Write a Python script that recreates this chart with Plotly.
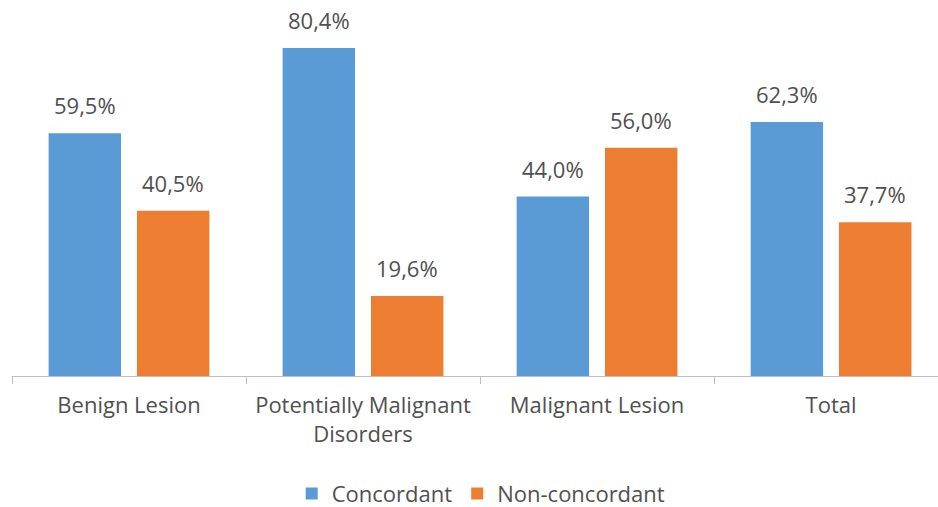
import plotly.graph_objects as go

categories = ["Benign Lesion", "Potentially Malignant<br>Disorders", "Malignant Lesion", "Total"]
concordant = [59.5, 80.4, 44.0, 62.3]
non_concordant = [40.5, 19.6, 56.0, 37.7]
series_names = ["Concordant", "Non-concordant"]

FONT = "Open Sans"
TXT = "#505050"
SIZE = 22

fig = go.Figure()
fig.add_trace(go.Bar(x=categories, y=concordant, name=series_names[0],
                     marker=dict(color="#5b9bd5", line=dict(width=0))))
fig.add_trace(go.Bar(x=categories, y=non_concordant, name=series_names[1],
                     marker=dict(color="#ed7d31", line=dict(width=0))))

def fmt(v):
    return f"{v:.1f}".replace(".", ",") + "%"

for i, cat in enumerate(categories):
    for vals, shift in ((concordant, -44), (non_concordant, 44)):
        fig.add_annotation(x=cat, y=vals[i], text=fmt(vals[i]), showarrow=False,
                           xshift=shift, yshift=28, yanchor="middle",
                           font=dict(family=FONT, size=SIZE, color=TXT))

fig.update_layout(
    width=938, height=507,
    margin=dict(l=12, r=0, t=0, b=131, autoexpand=False),
    paper_bgcolor="white", plot_bgcolor="white",
    barmode="group", bargap=0.245, bargroupgap=0.18,
    font=dict(family=FONT, size=SIZE, color=TXT),
    showlegend=True,
    legend=dict(orientation="h", xref="container", x=0.513, xanchor="center",
                yref="container", y=0.026, yanchor="middle",
                font=dict(family=FONT, size=SIZE, color=TXT), itemwidth=30,
                traceorder="normal"),
)
fig.update_xaxes(range=[-0.5, 3.457], showline=True, linecolor="#bfbfbf", linewidth=1,
                 ticks="outside", tickson="boundaries", ticklen=7, tickcolor="#bfbfbf",
                 ticklabelstandoff=10, showgrid=False, automargin=False,
                 tickfont=dict(family=FONT, size=SIZE, color=TXT))
fig.update_yaxes(range=[0, 92.2], visible=False, showgrid=False, automargin=False)

fig.write_html("out.html")
